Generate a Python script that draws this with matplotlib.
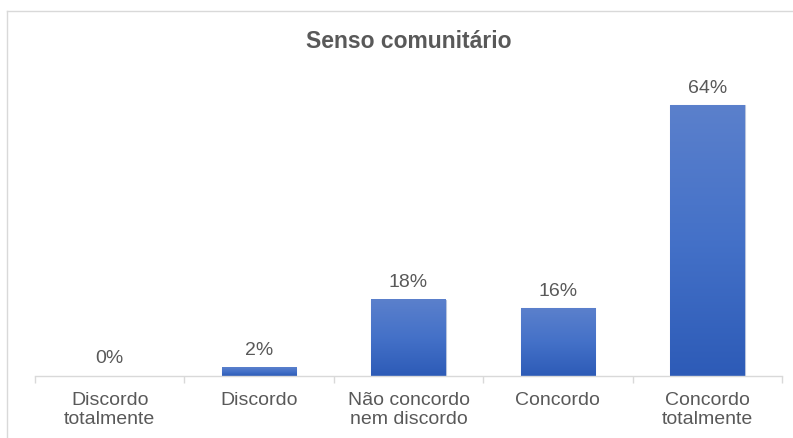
import matplotlib.pyplot as plt
import numpy as np
from matplotlib.colors import LinearSegmentedColormap
from matplotlib.lines import Line2D

categories = ["Discordo\ntotalmente", "Discordo", "Não concordo\nnem discordo",
              "Concordo", "Concordo\ntotalmente"]
values = [0, 2, 18, 16, 64]
value_labels = ["0%", "2%", "18%", "16%", "64%"]

plt.rcParams["font.family"] = ["Liberation Sans", "DejaVu Sans"]
text_color = "#595959"
grid_color = "#d9d9d9"

fig = plt.figure(figsize=(7.93, 4.39), dpi=100)
ax = fig.add_axes([35 / 793, 1 - 377 / 439, 747 / 793, 296 / 439])

x = np.arange(len(categories))
bars = ax.bar(x, values, width=0.5, color="none", edgecolor="none")

# vertical gradient fill, lighter at the top
cmap = LinearSegmentedColormap.from_list("bar", ["#2d5bb7", "#4471c8", "#5b80cc"])
grad = np.linspace(0, 1, 256).reshape(-1, 1)
for b in bars:
    h = b.get_height()
    if h <= 0:
        continue
    x0 = b.get_x()
    ax.imshow(grad, cmap=cmap, aspect="auto", origin="lower",
              extent=(x0, x0 + b.get_width(), 0, h), zorder=2)
    # soft edge shadow
    ax.add_patch(plt.Rectangle((x0, 0), b.get_width(), h, fill=False,
                               edgecolor="#b8c4dc", linewidth=0.8, zorder=1.9))

for xi, v, lab in zip(x, values, value_labels):
    ax.annotate(lab, (xi, v), xytext=(0, 7), textcoords="offset points",
                ha="center", va="bottom", fontsize=14, color=text_color)

ax.set_xlim(-0.5, len(categories) - 0.5)
ax.set_ylim(0, 70)

ax.set_xticks(np.arange(len(categories) + 1) - 0.5)
ax.set_xticklabels([])
ax.tick_params(axis="x", which="major", length=5, color=grid_color, width=1)
ax.set_xticks(x, minor=True)
ax.set_xticklabels(categories, minor=True, fontsize=14, color=text_color,
                   linespacing=1.15)
ax.tick_params(axis="x", which="minor", length=0, pad=11)
ax.set_yticks([])

for s in ["top", "right", "left"]:
    ax.spines[s].set_visible(False)
ax.spines["bottom"].set_color(grid_color)
ax.spines["bottom"].set_linewidth(1)

fig.text(409 / 793, 1 - 42 / 439, "Senso comunitário", ha="center", va="center",
         fontsize=16.5, fontweight="bold", color=text_color)

# chart area frame
fx, fy = 7 / 793, 1 - 12 / 439
fig.add_artist(Line2D([fx, 1], [fy, fy], color=grid_color, linewidth=1))
fig.add_artist(Line2D([fx, fx], [0, fy], color=grid_color, linewidth=1))

fig.savefig("out.png", dpi=100)
